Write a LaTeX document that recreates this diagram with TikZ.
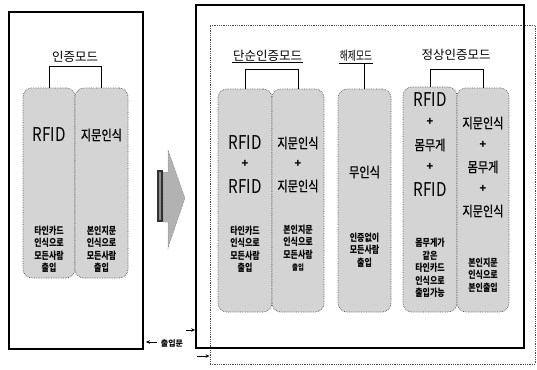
\documentclass[tikz,border=0pt]{standalone}
\usepackage{fontspec}
\setmainfont{Noto Sans CJK KR}
\newfontfamily\kr{Noto Sans CJK KR}
\newfontfamily\krn[FakeStretch=0.8]{Noto Sans CJK KR}
\newfontfamily\krm[FakeStretch=0.8,FakeBold=0.8]{Noto Sans CJK KR}
\newfontfamily\krc[FakeStretch=0.7]{Noto Sans CJK KR}
\usetikzlibrary{arrows.meta,calc}
\tikzset{
  frame/.style={draw=black, line width=1.8pt, inner sep=0pt},
  dotframe/.style={draw=black!70, densely dotted, line width=0.8pt, inner sep=0pt},
  pill/.style={draw=black!65, densely dotted, line width=0.7pt, fill=black!17, rounded corners=9pt, inner sep=0pt},
  ttl/.style={font=\kr\fontsize{12.5}{13}\selectfont, inner sep=1pt},
  bigtxt/.style={font=\krm\fontsize{14}{14}\selectfont, inner sep=0pt},
  rfidtxt/.style={font=\krn\fontsize{19}{19}\selectfont, inner sep=0pt},
  plussign/.style={font=\kr\bfseries\fontsize{11}{11}\selectfont, inner sep=0pt},
  smalltxt/.style={font=\krn\bfseries\fontsize{10}{12.5}\selectfont, align=center, inner sep=0pt},
  conn/.style={draw=black, line width=0.7pt},
  door/.style={draw=black, line width=0.7pt, -{Stealth[length=4pt,width=3.5pt]}}
}
\begin{document}
\begin{tikzpicture}[x=1pt,y=-1pt]
\useasboundingbox (0,0) rectangle (537,369);
% frames
\node[frame, minimum width=134pt, minimum height=337pt] (lbox) at (76,180.5) {};
\node[dotframe, minimum width=325pt, minimum height=339pt] (dbox) at (372.5,194.5) {};
\node[frame, minimum width=328pt, minimum height=343pt] (rbox) at (360,176.5) {};

% left: 인증모드
\node[pill, minimum width=52pt, minimum height=190pt] (L1) at (49,183) {};
\node[pill, minimum width=53pt, minimum height=190pt] (L2) at (101.5,183) {};
\node[ttl] (tL) at (75,57) {인증모드};
\draw[conn] (L1.north) -- ++(0,-21) -| (L2.north);
\node[rfidtxt] (l1a) at (49,135) {RFID};
\node[bigtxt] (l2a) at (101.5,135) {지문인식};
\node[smalltxt] (l1s) at (49,249) {타인카드\\인식으로\\모든사람\\출입};
\node[smalltxt] (l2s) at (101.5,249) {본인지문\\인식으로\\모든사람\\출입};

% 단순인증모드
\node[pill, minimum width=54pt, minimum height=223pt] (S1) at (245,200.5) {};
\node[pill, minimum width=52pt, minimum height=223pt] (S2) at (298,200.5) {};
\node[ttl] (tS) at (267.5,56) {단순인증모드};
\draw[conn] (tS.south west) -- (tS.south east);
\draw[conn] (S1.north) -- ++(0,-19) -| (S2.north);
\node[rfidtxt] (s1a) at (245,143) {RFID};
\node[plussign] (s1b) at (245,164) {+};
\node[rfidtxt] (s1c) at (245,187) {RFID};
\node[bigtxt] (s2a) at (298,143) {지문인식};
\node[plussign] (s2b) at (298,164) {+};
\node[bigtxt] (s2c) at (298,186) {지문인식};
\node[smalltxt] (s1s) at (245,249) {타인카드\\인식으로\\모든사람\\출입};
\node[smalltxt] (s2s) at (298,248) {본인지문\\인식으로\\모든사람\\{\fontsize{8}{9}\selectfont 출입}};

% 해제모드
\node[pill, minimum width=53pt, minimum height=223pt] (H) at (364.5,200.5) {};
\node[ttl, font=\krc\fontsize{12.5}{13}\selectfont] (tH) at (356,56) {해제모드};
\draw[conn] (tH.south west) -- (tH.south east);
\draw[conn] (H.north) -- (H.north |- tH.south);
\node[bigtxt] (h1) at (364.5,172) {무인식};
\node[smalltxt] (hs) at (364.5,250) {인증없이\\모든사람\\출입};

% 정상인증모드
\node[pill, minimum width=54pt, minimum height=225pt] (N1) at (430,199.5) {};
\node[pill, minimum width=52pt, minimum height=224pt] (N2) at (483,200) {};
\node[ttl] (tN) at (456,55) {정상인증모드};
\draw[conn] (N1.north) -- ++(0,-17) -| (N2.north);
\node[rfidtxt] (n1a) at (430,100) {RFID};
\node[plussign] (n1b) at (430,122) {+};
\node[bigtxt] (n1c) at (430,145) {몸무게};
\node[plussign] (n1d) at (430,167) {+};
\node[rfidtxt] (n1e) at (430,190) {RFID};
\node[bigtxt] (n2a) at (483,123) {지문인식};
\node[plussign] (n2b) at (483,145) {+};
\node[bigtxt] (n2c) at (483,167) {몸무게};
\node[plussign] (n2d) at (483,189) {+};
\node[bigtxt] (n2e) at (483,211) {지문인식};
\node[smalltxt] (n1s) at (430,268) {몸무게가\\같은\\타인카드\\인식으로\\출입가능};
\node[smalltxt] (n2s) at (483,275) {본인지문\\인식으로\\본인출입};

% big arrow
\fill[black!30, draw=black!55, densely dotted, line width=0.5pt]
  (163,172) -- (168,172) -- (168,150) -- (185,198) -- (168,248) -- (168,222) -- (163,222) -- cycle;
\fill[black!80] (157,170) rectangle (163,222);
\fill[black!45] (159,172) rectangle (160.5,220);

% door labels
\node[font=\kr\bfseries\fontsize{8}{8}\selectfont, inner sep=1pt] (dr) at (172,343) {출입문};
\coordinate (d1s) at (157,342);
\coordinate (d1e) at (146,342);
\draw[door] (d1s) -- (d1e);
\coordinate (d2s) at (186,330);
\draw[door] (d2s) -- (d2s -| rbox.west);
\coordinate (d3s) at (197,356);
\draw[door] (d3s) -- (d3s -| dbox.west);
\end{tikzpicture}
\end{document}
